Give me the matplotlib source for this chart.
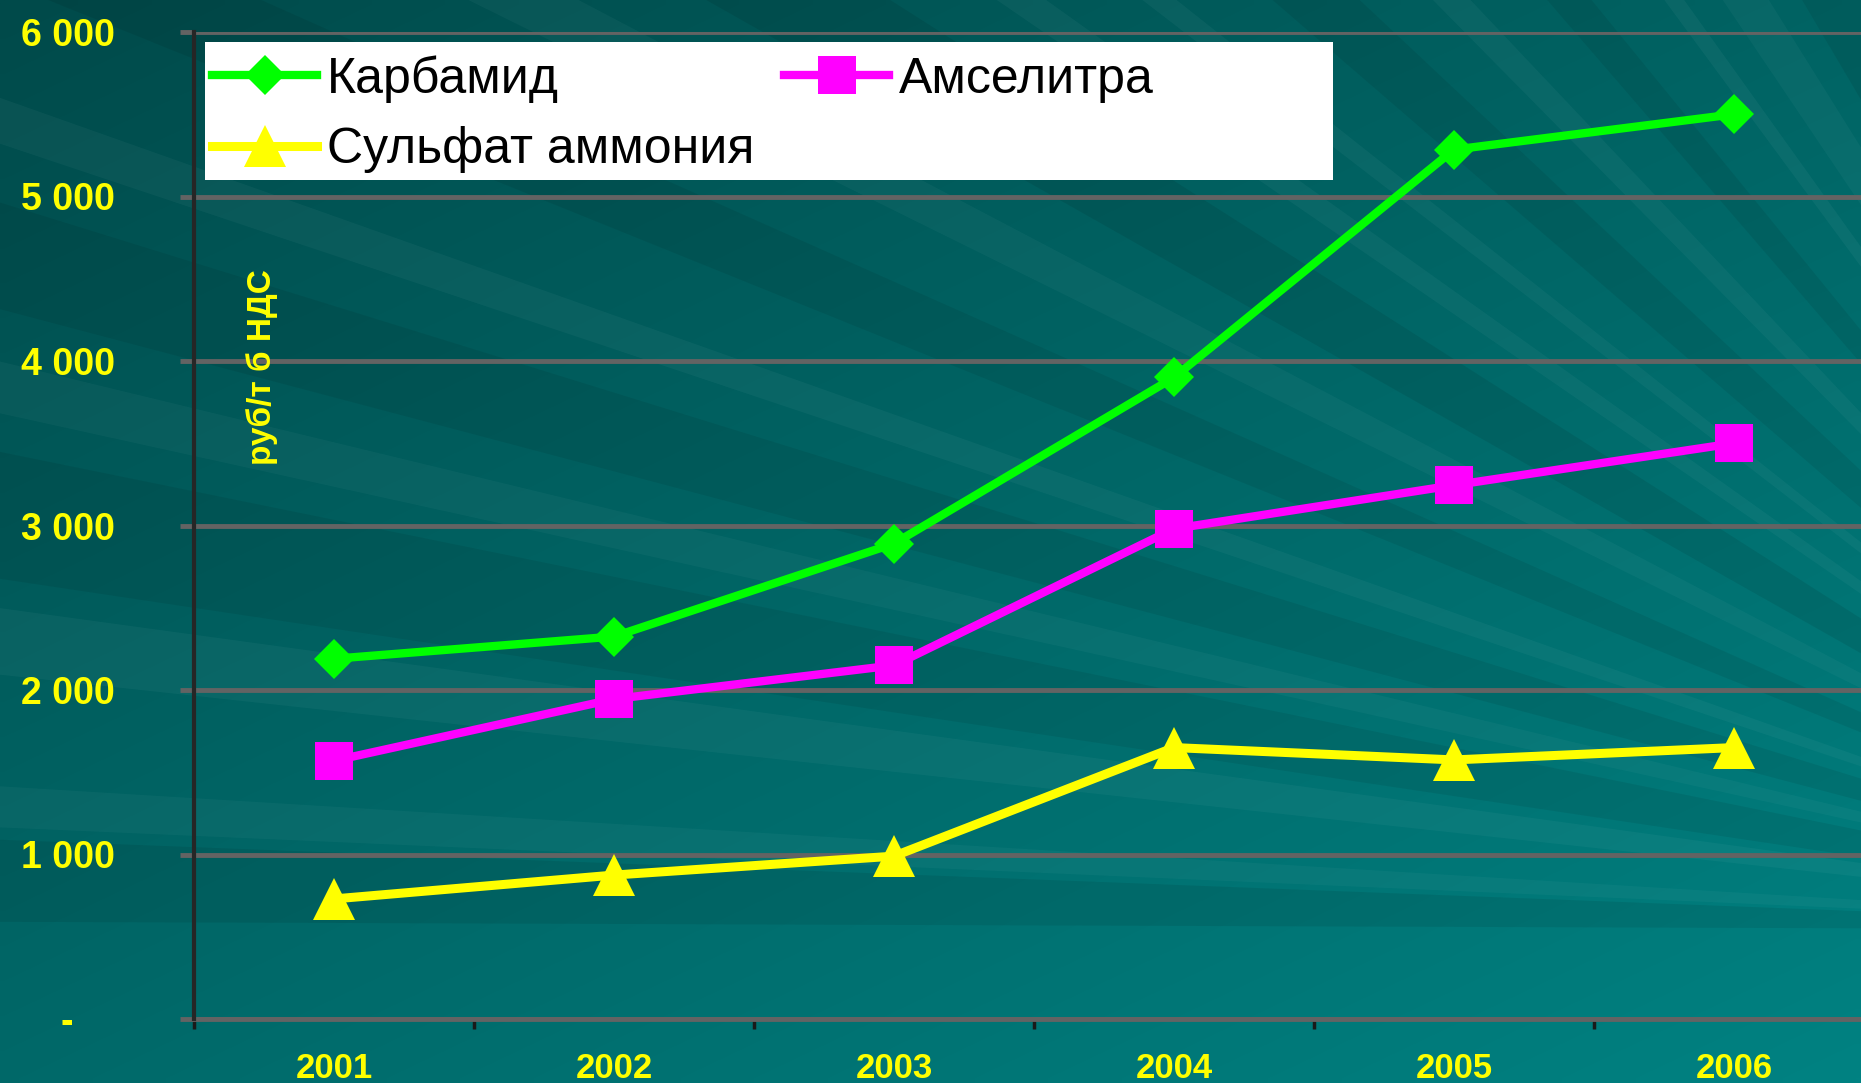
import numpy as np
import matplotlib.pyplot as plt
from matplotlib.patches import Polygon, Rectangle
from matplotlib.ticker import FixedLocator, FuncFormatter

plt.rcParams['font.family'] = ['Liberation Sans', 'DejaVu Sans']

years = ['2001', '2002', '2003', '2004', '2005', '2006']
karbamid = [2190, 2325, 2890, 3900, 5285, 5500]
amselitra = [1570, 1945, 2150, 2980, 3245, 3500]
sulfat = [730, 875, 990, 1650, 1575, 1650]
yticks = [0, 1000, 2000, 3000, 4000, 5000, 6000]

W, H = 1861, 1083
fig = plt.figure(figsize=(W / 100, H / 100), dpi=100)

# background: teal gradient with faint light/dark rays
bg = fig.add_axes([0, 0, 1, 1], zorder=0)
bg.set_xlim(0, W)
bg.set_ylim(H, 0)
bg.axis('off')
gx, gy = np.meshgrid(np.linspace(0, 1, 200), np.linspace(0, 1, 120))
v = 0.55 * gy + 0.45 * gx
c0 = np.array([0x00, 0x4a, 0x4a]) / 255
c1 = np.array([0x00, 0x82, 0x82]) / 255
img = c0 + (c1 - c0) * v[..., None]
bg.imshow(img, extent=(0, W, H, 0), aspect='auto', interpolation='bilinear')

focus = np.array([2350, 930])
rays = [(1.2, 1.0, 'k', 0.08), (3, 0.5, 'w', 0.035), (7, 0.8, 'w', 0.04),
        (10, 1.5, 'k', 0.07), (13, 0.6, 'w', 0.035), (16, 1.2, 'k', 0.07),
        (19, 0.5, 'w', 0.04), (23, 1.0, 'k', 0.07), (27, 0.7, 'w', 0.035),
        (31, 1.5, 'k', 0.08), (35, 0.5, 'w', 0.04), (38, 0.4, 'w', 0.04),
        (42, 1.2, 'k', 0.07), (46, 0.6, 'w', 0.04), (50, 0.8, 'k', 0.07),
        (54, 0.4, 'w', 0.045), (57, 1.0, 'w', 0.035), (61, 1.5, 'k', 0.07),
        (65, 0.5, 'w', 0.045)]
R = 4000
for ang, wid, col, al in rays:
    a1 = np.radians(ang - wid)
    a2 = np.radians(ang + wid)
    p1 = focus + R * np.array([-np.cos(a1), -np.sin(a1)])
    p2 = focus + R * np.array([-np.cos(a2), -np.sin(a2)])
    bg.add_patch(Polygon([focus, p1, p2], closed=True, color=col, alpha=al, lw=0))

# legend background box
bg.add_patch(Rectangle((205, 42), 1128, 138, color='white', lw=0, zorder=5))

# main axes
ax = fig.add_axes([194 / W, 1 - 1019 / H, 1680 / W, (1019 - 32) / H], zorder=1)
ax.set_facecolor('none')
x = np.arange(1, len(years) + 1)

ax.plot(x, karbamid, color='#00ff00', lw=6, marker='D', ms=20, mew=0, label='Карбамид', zorder=4)
ax.plot(x, sulfat, color='#ffff00', lw=6.5, marker='^', ms=30, mew=0, label='Сульфат аммония', zorder=4)
ax.plot(x, amselitra, color='#ff00ff', lw=6, marker='s', ms=27, mew=0, label='Амселитра', zorder=4)

ax.set_xlim(0.5, 6.5)
ax.set_ylim(0, 6000)

grid_c = '#636363'
ax.yaxis.set_major_locator(FixedLocator(yticks))
ax.yaxis.set_major_formatter(FuncFormatter(
    lambda val, pos: '-    ' if val == 0 else '{:,.0f}'.format(val).replace(',', ' ')))
ax.yaxis.grid(True, color=grid_c, lw=3.5, zorder=1)
ax.set_axisbelow(True)
ax.tick_params(axis='y', direction='out', length=10, width=3.5, color=grid_c, pad=47,
               labelsize=27, labelcolor='#ffff00')
for t in ax.get_yticklabels():
    t.set_fontweight('bold')

ax.set_xticks(x)
ax.set_xticklabels(years)
ax.set_xticks(np.arange(0.5, 7, 1), minor=True)
ax.tick_params(axis='x', which='major', length=0, pad=24, labelsize=25, labelcolor='#ffff00')
ax.tick_params(axis='x', which='minor', direction='out', length=7, width=2.5, color='#1a1a1a')
for t in ax.get_xticklabels():
    t.set_fontweight('bold')

for s in ['top', 'right']:
    ax.spines[s].set_visible(False)
ax.spines['bottom'].set_color(grid_c)
ax.spines['bottom'].set_linewidth(3.5)
ax.spines['left'].set_color('#262626')
ax.spines['left'].set_linewidth(3)
ax.spines['left'].set_zorder(3)

leg = ax.legend(loc='upper left', bbox_to_anchor=(212 / W, 1 - 55 / H),
                bbox_transform=fig.transFigure, ncol=2, frameon=False,
                fontsize=36, handlelength=2.1, handletextpad=0.2,
                columnspacing=0.6, labelspacing=0.47, borderpad=0, borderaxespad=0)
for t in leg.get_texts():
    t.set_color('black')

fig.text(262 / W, 1 - 367 / H, 'руб/т б НДС', rotation=90, ha='center', va='center',
         color='#ffff00', fontsize=24, fontweight='bold', zorder=5)

fig.savefig('out.png', dpi=100)
